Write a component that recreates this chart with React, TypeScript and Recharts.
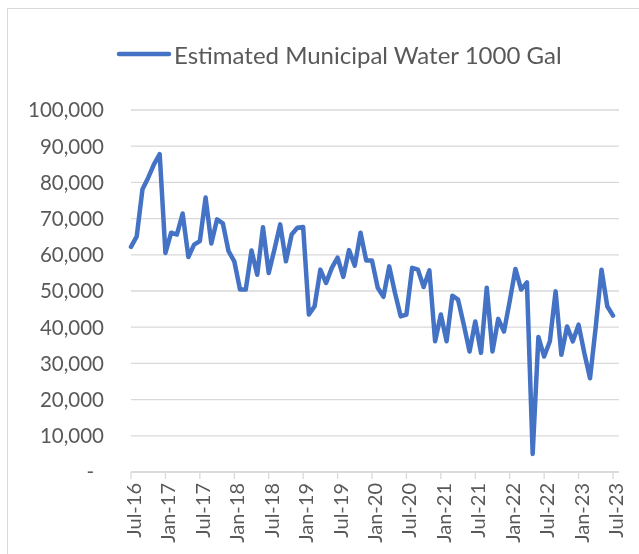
import React from "react";
import { LineChart, Line, XAxis, YAxis, CartesianGrid, Legend } from "recharts";

const months: string[] = [
  "Jul-16", "Aug-16", "Sep-16", "Oct-16", "Nov-16", "Dec-16",
  "Jan-17", "Feb-17", "Mar-17", "Apr-17", "May-17", "Jun-17", "Jul-17", "Aug-17", "Sep-17", "Oct-17", "Nov-17", "Dec-17",
  "Jan-18", "Feb-18", "Mar-18", "Apr-18", "May-18", "Jun-18", "Jul-18", "Aug-18", "Sep-18", "Oct-18", "Nov-18", "Dec-18",
  "Jan-19", "Feb-19", "Mar-19", "Apr-19", "May-19", "Jun-19", "Jul-19", "Aug-19", "Sep-19", "Oct-19", "Nov-19", "Dec-19",
  "Jan-20", "Feb-20", "Mar-20", "Apr-20", "May-20", "Jun-20", "Jul-20", "Aug-20", "Sep-20", "Oct-20", "Nov-20", "Dec-20",
  "Jan-21", "Feb-21", "Mar-21", "Apr-21", "May-21", "Jun-21", "Jul-21", "Aug-21", "Sep-21", "Oct-21", "Nov-21", "Dec-21",
  "Jan-22", "Feb-22", "Mar-22", "Apr-22", "May-22", "Jun-22", "Jul-22", "Aug-22", "Sep-22", "Oct-22", "Nov-22", "Dec-22",
  "Jan-23", "Feb-23", "Mar-23", "Apr-23", "May-23", "Jun-23", "Jul-23",
];

// Estimated Municipal Water, 1000 Gal
const water: number[] = [
  62200, 65100, 78100, 81300, 85000, 87800,
  60500, 66100, 65600, 71400, 59400, 62800, 63800, 75800, 63100, 69800, 68700, 61000,
  58200, 50400, 50400, 61200, 54500, 67600, 55000, 61500, 68400, 58200, 65600, 67500,
  67700, 43500, 45800, 55900, 52200, 56400, 59200, 53900, 61300, 57000, 66100, 58400,
  58400, 50900, 48400, 56800, 49500, 43000, 43500, 56400, 55900, 51100, 55700, 36100,
  43500, 36100, 48700, 47600, 40700, 33300, 41600, 32900, 50900, 33300, 42300, 38800,
  47200, 56100, 50400, 52400, 5000, 37300, 31900, 36100, 49900, 32400, 40200, 36100,
  40700, 32900, 25900, 40200, 55900, 45800, 43200,
];

const yTicks: number[] = [0, 10000, 20000, 30000, 40000, 50000, 60000, 70000, 80000, 90000, 100000];
const seriesName = "Estimated Municipal Water 1000 Gal";

const data = months.map((m, i) => ({ month: m, water: water[i] }));

const FONT = "Lato, 'Open Sans', sans-serif";
const TEXT = "#595959";
const GRID = "#d9d9d9";
const BLUE = "#4472C4";

const XTick = (props: any) => {
  const { x, y, payload } = props;
  return (
    <text
      x={x}
      y={y}
      transform={`rotate(-90, ${x}, ${y})`}
      textAnchor="end"
      dy="0.5em"
      fill={TEXT}
      fontSize={20}
      fontFamily={FONT}
    >
      {payload.value}
    </text>
  );
};

const YTick = (props: any) => {
  const { x, y, payload } = props;
  const v = payload.value as number;
  const label = v === 0 ? "-" : v.toLocaleString("en-US");
  return (
    <text
      x={v === 0 ? x - 10 : x}
      y={y}
      dy="0.36em"
      textAnchor="end"
      fill={TEXT}
      fontSize={20.5}
      fontFamily={FONT}
    >
      {label}
    </text>
  );
};

const LegendContent = () => (
  <div style={{ display: "flex", alignItems: "center", paddingLeft: 116, height: 34 }}>
    <svg width={56} height={10} style={{ display: "block" }}>
      <line x1={3} y1={5} x2={53} y2={5} stroke={BLUE} strokeWidth={4.5} strokeLinecap="round" />
    </svg>
    <span style={{ marginLeft: 2, fontFamily: FONT, fontSize: 24, color: TEXT, whiteSpace: "nowrap" }}>
      {seriesName}
    </span>
  </div>
);

export default function App() {
  return (
    <>
      <div
        style={{
          position: "fixed",
          left: 7,
          top: 8,
          width: 700,
          height: 700,
          borderLeft: `1px solid ${GRID}`,
          borderTop: `1px solid ${GRID}`,
          pointerEvents: "none",
        }}
      />
      <div style={{ position: "fixed", left: 0, top: 0, width: 639, height: 554 }}>
        <LineChart
          width={639}
          height={554}
          data={data}
          margin={{ top: 110, right: 20, bottom: 0, left: 0 }}
        >
          <CartesianGrid vertical={false} stroke={GRID} strokeWidth={1.3} />
          <XAxis
            dataKey="month"
            interval={5}
            height={82}
            padding={{ left: 0, right: 6 }}
            axisLine={{ stroke: GRID, strokeWidth: 1.3 }}
            tickLine={{ stroke: GRID, strokeWidth: 1.3 }}
            tickSize={7}
            tickMargin={4}
            tick={<XTick />}
          />
          <YAxis
            domain={[0, 100000]}
            ticks={yTicks}
            width={131}
            axisLine={false}
            tickLine={false}
            tickSize={0}
            tickMargin={27}
            tick={<YTick />}
          />
          <Legend
            layout="horizontal"
            verticalAlign="middle"
            align="center"
            wrapperStyle={{ top: 37, left: 0, width: 639, height: 34 }}
            content={<LegendContent />}
          />
          <Line
            type="linear"
            dataKey="water"
            name={seriesName}
            stroke={BLUE}
            strokeWidth={4.5}
            strokeLinejoin="round"
            strokeLinecap="round"
            dot={false}
            activeDot={false}
            isAnimationActive={false}
          />
        </LineChart>
      </div>
    </>
  );
}
